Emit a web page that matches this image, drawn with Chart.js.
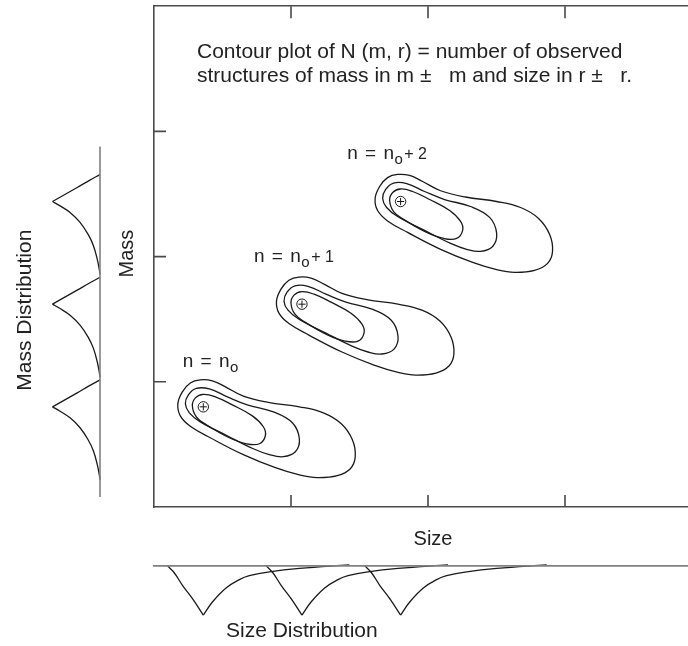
<!DOCTYPE html>
<html>
<head>
<meta charset="utf-8">
<script src="https://cdn.jsdelivr.net/npm/chart.js@4.4.1/dist/chart.umd.min.js"></script>
<style>
  html, body { margin: 0; padding: 0; background: #fff; overflow: hidden; }
  #graph { display: block; }
</style>
</head>
<body>
<canvas id="graph" width="720" height="646"></canvas>
<script>
// 各グループの中心（size, mass）
const groupSize = [0.36, 1.08, 1.80];
const groupMass = [0.80, 1.62, 2.44];
const groupLabelMain = ["n = n", "n = n", "n = n"];
const groupLabelSub = ["o", "o", "o"];
const groupLabelTail = ["", "+ 1", "+ 2"];
const labelSize = [0.21, 0.73, 1.41];
const labelMass = [1.116, 1.96, 2.781];

// 等高線（中心からのずれ）
const outerDs = [-0.186, -0.153, -0.095, -0.022, 0.066, 0.161, 0.292, 0.474, 0.701, 0.876, 1.007, 1.088, 1.109, 1.073, 0.978, 0.832, 0.708, 0.526, 0.292, 0.051, -0.095, -0.168];
const outerDm = [0.024, 0.120, 0.191, 0.216, 0.208, 0.160, 0.086, 0.036, 0.000, -0.048, -0.135, -0.263, -0.398, -0.494, -0.550, -0.566, -0.546, -0.486, -0.382, -0.247, -0.155, -0.072];
const midDs = [-0.131, -0.109, -0.051, 0.044, 0.175, 0.321, 0.511, 0.650, 0.701, 0.672, 0.584, 0.482, 0.365, 0.175, -0.022, -0.102];
const midDm = [0.024, 0.096, 0.147, 0.143, 0.080, 0.016, -0.040, -0.127, -0.255, -0.359, -0.398, -0.382, -0.335, -0.231, -0.120, -0.048];
const innerDs = [-0.080, -0.058, 0.000, 0.088, 0.212, 0.358, 0.438, 0.453, 0.409, 0.314, 0.190, 0.022, -0.051];
const innerDm = [0.008, 0.072, 0.100, 0.080, 0.016, -0.072, -0.159, -0.231, -0.295, -0.295, -0.247, -0.143, -0.080];

// 質量分布・サイズ分布の形
const massProfileOffset = [0.215, 0.167, 0.112, 0.056, 0, -0.035, -0.088, -0.167, -0.263, -0.351, -0.462, -0.542, -0.582];
const massProfileValue = [0, 0.23, 0.48, 0.74, 1, 0.84, 0.63, 0.42, 0.25, 0.14, 0.057, 0.015, 0];
const sizeProfileOffset = [-0.261, -0.215, -0.151, -0.078, 0, 0.068, 0.166, 0.263, 0.336, 0.482, 0.701, 1.066];
const sizeProfileValue = [0, 0.13, 0.40, 0.67, 1, 0.73, 0.45, 0.28, 0.20, 0.12, 0.05, -0.02];

const noteLines = [
  "Contour plot of N (m, r) = number of observed",
  "structures of mass in m \u00b1   m and size in r \u00b1   r.",
];
const noteSize = 0.314;
const noteMass = [3.588, 3.394];

const lineColor = "#1a1a1a";
const frameColor = "#4a4a4a";
const baseColor = "#808080";
const textColor = "#222";
const font = '"Liberation Sans", Arial, sans-serif';

drawContourChart();
function drawContourChart() {
  const graph = document.getElementById("graph");
  if (!graph) {
    return;
  }

  const line = (data, extra) => ({
    data: data,
    showLine: true,
    borderColor: lineColor,
    borderWidth: 1.3,
    pointRadius: 0,
    tension: 0.4,
    fill: false,
    clip: false,
    ...extra,
  });

  const datasets = [];

  // 中心の ⊕（先に入れたものが上に描かれる）
  const centers = groupSize.map((s, i) => ({ x: s, y: groupMass[i] }));
  datasets.push({
    data: centers,
    pointStyle: "cross",
    pointRadius: 3.6,
    pointBorderWidth: 1,
    pointBorderColor: lineColor,
  });
  datasets.push({
    data: centers,
    pointStyle: "circle",
    pointRadius: 5.2,
    pointBorderWidth: 1,
    pointBorderColor: lineColor,
    pointBackgroundColor: "#fff",
  });

  // 等高線（閉曲線：前後に点を足して見えない区間にする）
  const contour = (ds, dm, cs, cm) => {
    const pts = ds.map((d, i) => ({ x: cs + d, y: cm + dm[i] }));
    const n = pts.length;
    const data = [pts[n - 1], ...pts, pts[0], pts[1]];
    return line(data, {
      segment: {
        borderColor: (c) =>
          c.p0DataIndex === 0 || c.p0DataIndex === n + 1 ? "rgba(0,0,0,0)" : lineColor,
      },
    });
  };

  groupSize.forEach((s, g) => {
    const m = groupMass[g];
    datasets.push(contour(outerDs, outerDm, s, m));
    datasets.push(contour(midDs, midDm, s, m));
    datasets.push(contour(innerDs, innerDm, s, m));
  });

  // 質量分布（左）: x が減る順に並べて全点を描かせる
  datasets.push(line([{ x: 0, y: 2.88 }, { x: 0, y: 0.08 }], {
    xAxisID: "xMD", borderColor: baseColor, borderWidth: 1.6, tension: 0,
  }));
  const massCusp = massProfileValue.indexOf(1);
  groupMass.forEach((m) => {
    const pts = massProfileOffset.map((o, i) => ({ x: massProfileValue[i], y: m + o }));
    datasets.push(line(pts.slice(0, massCusp + 1).reverse(), { xAxisID: "xMD" }));
    datasets.push(line(pts.slice(massCusp), { xAxisID: "xMD" }));
  });

  // サイズ分布（下）
  datasets.push(line([{ x: -0.007, y: 0 }, { x: 4.3, y: 0 }], {
    yAxisID: "ySD", borderColor: baseColor, borderWidth: 1.6, tension: 0,
  }));
  const sizeCusp = sizeProfileValue.indexOf(1);
  groupSize.forEach((s) => {
    const pts = sizeProfileOffset.map((o, i) => ({ x: s + o, y: sizeProfileValue[i] }));
    datasets.push(line(pts.slice(0, sizeCusp + 1), { yAxisID: "ySD" }));
    datasets.push(line(pts.slice(sizeCusp), { yAxisID: "ySD" }));
  });

  const frameAxis = (position) => ({
    type: "linear",
    position: position,
    min: 0,
    max: 4,
    ticks: { display: false, stepSize: 1 },
    grid: { display: false, drawTicks: false, drawOnChartArea: false },
    border: { display: true, color: frameColor, width: 1.6 },
  });

  // 内向きの目盛りと文字
  const decor = {
    id: "decor",
    afterDraw(chart) {
      const { ctx, chartArea: a, scales } = chart;
      const x = scales.x;
      const y = scales.y;
      const tickLen = 12;

      ctx.save();
      ctx.strokeStyle = frameColor;
      ctx.lineWidth = 1.6;
      ctx.beginPath();
      x.ticks.forEach((t) => {
        if (t.value <= x.min || t.value >= x.max) return;
        const px = x.getPixelForValue(t.value);
        ctx.moveTo(px, a.top);
        ctx.lineTo(px, a.top + tickLen);
        ctx.moveTo(px, a.bottom);
        ctx.lineTo(px, a.bottom - tickLen);
      });
      y.ticks.forEach((t) => {
        if (t.value <= y.min || t.value >= y.max) return;
        const py = y.getPixelForValue(t.value);
        ctx.moveTo(a.left, py);
        ctx.lineTo(a.left + tickLen, py);
      });
      ctx.stroke();

      ctx.fillStyle = textColor;
      ctx.textBaseline = "alphabetic";
      ctx.textAlign = "left";

      // 説明文
      ctx.font = "21px " + font;
      noteLines.forEach((txt, i) => {
        ctx.fillText(txt, x.getPixelForValue(noteSize), y.getPixelForValue(noteMass[i]));
      });

      // n ラベル
      groupLabelMain.forEach((main, i) => {
        let px = x.getPixelForValue(labelSize[i]);
        const py = y.getPixelForValue(labelMass[i]);
        ctx.font = "19px " + font;
        ctx.wordSpacing = "2px";
        ctx.fillText(main, px, py);
        px += ctx.measureText(main).width + 0.5;
        ctx.wordSpacing = "0px";
        ctx.font = "15px " + font;
        ctx.fillText(groupLabelSub[i], px, py + 5);
        px += ctx.measureText(groupLabelSub[i]).width + 1.5;
        ctx.font = "16px " + font;
        ctx.fillText(groupLabelTail[i], px, py);
      });

      // 軸タイトル
      ctx.textAlign = "center";
      ctx.textBaseline = "middle";
      ctx.font = "20px " + font;
      ctx.fillText("Size", (a.left + a.right) / 2 + 5, a.bottom + 32);
      ctx.save();
      ctx.translate(a.left - 27, (a.top + a.bottom) / 2 - 3);
      ctx.rotate(-Math.PI / 2);
      ctx.fillText("Mass", 0, 0);
      ctx.restore();

      ctx.font = "21px " + font;
      ctx.save();
      ctx.translate(a.left - 129, a.top + 304);
      ctx.rotate(-Math.PI / 2);
      ctx.fillText("Mass Distribution", 0, 0);
      ctx.restore();
      ctx.textAlign = "left";
      ctx.fillText("Size Distribution", a.left + 72, a.bottom + 124);

      ctx.restore();
    },
  };

  new Chart(graph, {
    type: "scatter",
    data: { datasets: datasets },
    options: {
      responsive: false,
      animation: false,
      devicePixelRatio: 1,
      events: [],
      layout: { padding: { left: 154, top: 5, right: 18, bottom: 139 } },
      scales: {
        x: frameAxis("bottom"),
        xTop: frameAxis("top"),
        y: frameAxis("left"),
        xMD: { type: "linear", display: false, reverse: true, min: -12.674, max: -1.137 },
        ySD: { type: "linear", display: false, reverse: true, min: -11.38, max: -1.197 },
      },
      plugins: {
        legend: { display: false },
        tooltip: { enabled: false },
      },
    },
    plugins: [decor],
  });
}
</script>
</body>
</html>
